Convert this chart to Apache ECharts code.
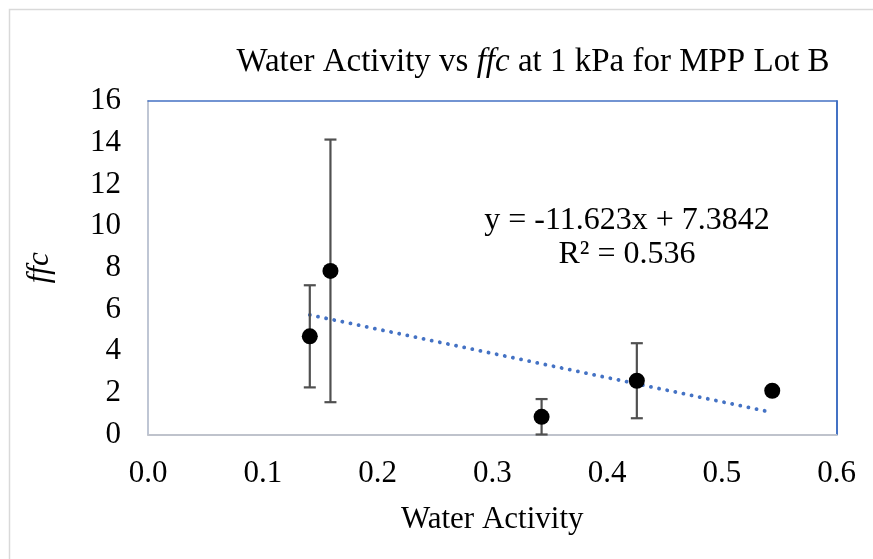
<!DOCTYPE html>
<html>
<head>
<meta charset="utf-8">
<script src="https://cdn.jsdelivr.net/npm/echarts@6/dist/echarts.min.js"></script>
<style>html,body{margin:0;padding:0;background:#fff;}#c{width:873px;height:559px;}</style>
</head>
<body>
<div id="c"></div>
<script>
// Data
var waterActivity = [0.141, 0.159, 0.343, 0.426, 0.544];
var ffcValues     = [4.71, 7.85, 0.85, 2.58, 2.10];
var ffcErrors     = [2.45, 6.30, 0.85, 1.80, 0];
var trendX        = [0.141, 0.544];
var trendY        = [5.74, 1.06];
var xTicks        = ['0.0', '0.1', '0.2', '0.3', '0.4', '0.5', '0.6'];
var equationText  = 'y = -11.623x + 7.3842';
var r2Text        = 'R² = 0.536';

var FONT = '"Liberation Serif", "Times New Roman", serif';

var scatterData = waterActivity.map(function (x, i) { return [x, ffcValues[i]]; });
var errData = waterActivity.map(function (x, i) { return [x, ffcValues[i] - ffcErrors[i], ffcValues[i] + ffcErrors[i]]; })
  .filter(function (d) { return d[2] - d[1] > 0; });
var trendData = trendX.map(function (x, i) { return [x, trendY[i]]; });

var chart = echarts.init(document.getElementById('c'), null, { renderer: 'canvas' });
chart.setOption({
  backgroundColor: '#ffffff',
  animation: false,
  title: {
    text: '{a|Water Activity vs }{i|ffc}{a| at 1 kPa for MPP Lot B}',
    left: 528, top: 41, textAlign: 'center',
    textStyle: {
      rich: {
        a: { fontFamily: FONT, fontSize: 33, fontWeight: 'normal', color: '#000' },
        i: { fontFamily: FONT, fontSize: 33, fontWeight: 'normal', fontStyle: 'italic', color: '#000' }
      }
    }
  },
  graphic: [{
    type: 'rect', shape: { x: 9.5, y: 9.5, width: 900, height: 600 },
    style: { fill: 'none', stroke: '#d9d9d9', lineWidth: 1.5 }, silent: true
  }, {
    type: 'text', x: 627, y: 204,
    style: {
      text: equationText + '\n' + r2Text, align: 'center', verticalAlign: 'top',
      font: '32px ' + FONT, fill: '#000', lineHeight: 34
    }
  }],
  grid: { left: 148, right: 36.5, top: 101, bottom: 124.5, containLabel: false },
  xAxis: [{
    type: 'value', min: 0, max: 0.6, interval: 0.1,
    name: 'Water Activity', nameLocation: 'middle', nameGap: 70,
    nameTextStyle: { fontFamily: FONT, fontSize: 31, color: '#000' },
    axisLine: { show: true, lineStyle: { color: '#bfc3cc', width: 2 } },
    axisTick: { show: false }, splitLine: { show: false },
    axisLabel: { fontFamily: FONT, fontSize: 31, color: '#000', margin: 24,
      formatter: function (v) { return xTicks[Math.round(v * 10)]; } }
  }, {
    type: 'value', min: 0, max: 0.6, position: 'top',
    axisLine: { show: true, onZero: false, lineStyle: { color: '#4472c4', width: 1.5 } },
    axisTick: { show: false }, axisLabel: { show: false }, splitLine: { show: false }
  }],
  yAxis: [{
    type: 'value', min: 0, max: 16, interval: 2,
    name: 'ffc', nameLocation: 'middle', nameGap: 93, nameRotate: 90,
    nameTextStyle: { fontFamily: FONT, fontSize: 31, fontStyle: 'italic', color: '#000' },
    axisLine: { show: true, lineStyle: { color: '#bfc6d4', width: 2 } },
    axisTick: { show: false }, splitLine: { show: false },
    axisLabel: { fontFamily: FONT, fontSize: 31, color: '#000', margin: 27 }
  }, {
    type: 'value', min: 0, max: 16, position: 'right',
    axisLine: { show: true, onZero: false, lineStyle: { color: '#4472c4', width: 2 } },
    axisTick: { show: false }, axisLabel: { show: false }, splitLine: { show: false }
  }],
  series: [{
    type: 'line', data: trendData, symbol: 'none', z: 3,
    lineStyle: { color: '#4472c4', width: 3.8, type: [0.1, 8.2], cap: 'round' }
  }, {
    type: 'custom', data: errData, z: 4,
    renderItem: function (params, api) {
      var x = api.value(0);
      var lo = api.coord([x, api.value(1)]);
      var hi = api.coord([x, api.value(2)]);
      var half = 6;
      var st = { stroke: '#505050', lineWidth: 2.2, fill: 'none' };
      return { type: 'group', children: [
        { type: 'line', shape: { x1: lo[0], y1: lo[1], x2: hi[0], y2: hi[1] }, style: st },
        { type: 'line', shape: { x1: lo[0] - half, y1: lo[1], x2: lo[0] + half, y2: lo[1] }, style: st },
        { type: 'line', shape: { x1: hi[0] - half, y1: hi[1], x2: hi[0] + half, y2: hi[1] }, style: st }
      ] };
    }
  }, {
    type: 'scatter', data: scatterData, symbol: 'circle', symbolSize: 16, z: 5,
    itemStyle: { color: '#000', opacity: 1 }
  }]
});
</script>
</body>
</html>
